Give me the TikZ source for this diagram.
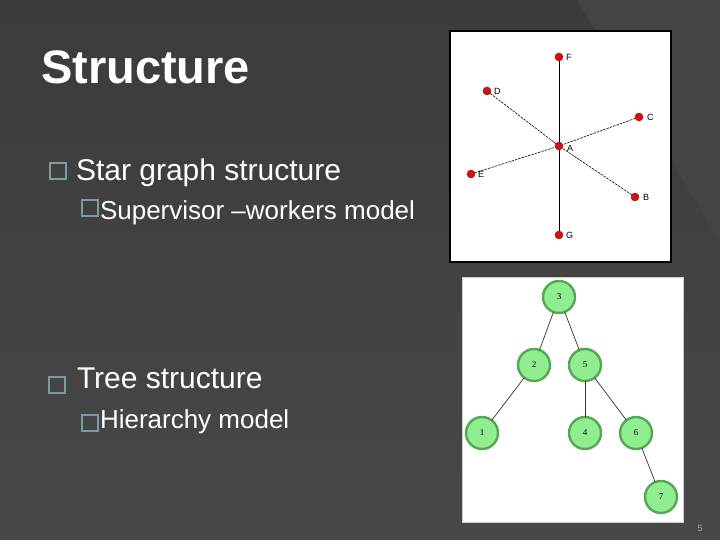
\documentclass[tikz,border=0pt]{standalone}
\usepackage{fontspec}
\setmainfont{Liberation Sans}
\newfontfamily\treefont{Liberation Serif}
\usepackage{xcolor}
\usetikzlibrary{positioning}
\definecolor{slidebg}{RGB}{59, 59, 59}
\definecolor{slidelow}{RGB}{72, 72, 72}
\definecolor{slideband}{RGB}{68, 68, 68}
\definecolor{bulletteal}{RGB}{120, 156, 162}
\definecolor{starred}{RGB}{210, 16, 16}
\definecolor{treegreen}{RGB}{144, 238, 144}
\definecolor{treeedge}{RGB}{84, 168, 84}
\definecolor{pagegray}{RGB}{168, 168, 168}

\begin{document}
\begin{tikzpicture}[x=1pt, y=-1pt, every node/.style={inner sep=0pt, outer sep=0pt},
    slidetitle/.style={font=\fontsize{47}{50}\selectfont\bfseries, text=white, anchor=base west},
    lvlone/.style={font=\fontsize{30}{34}\selectfont, text=white, anchor=base west},
    lvltwo/.style={font=\fontsize{26}{30}\selectfont, text=white, anchor=base west},
    bulletbox/.style={draw=bulletteal, line width=1.8pt, minimum size=16pt},
    stardot/.style={circle, fill=starred, draw=starred!70!black, line width=0.4pt, minimum size=8pt},
    starlbl/.style={font=\fontsize{9}{9}\selectfont, text=black},
    spoke/.style={black, line width=0.6pt, dash pattern=on 2.5pt off 1pt},
    treenode/.style={circle, fill=treegreen, draw=treeedge, line width=2.4pt, minimum size=32pt, font=\treefont\fontsize{9}{9}\selectfont},
    branch/.style={black!80, line width=0.7pt}]
    \useasboundingbox (0,0) rectangle (720,540);

    % Background
    \shade[top color=slidebg, bottom color=slidelow] (0,0) rectangle (720,540);
    \fill[slideband] (577,0) -- (720,0) -- (720,243) -- cycle;

    % Title and bullets
    \node[slidetitle] (ttl) at (41,84) {Structure};
    \node[bulletbox] (bstar) at (58,171) {};
    \node[lvlone] (tstar) at (76,181) {Star graph structure};
    \node[bulletbox, minimum size=15.5pt] (bsup) at (90,208) {};
    \node[lvltwo] (tsup) at (100,219) {Supervisor –workers model};
    \node[bulletbox] (btree) at (57,385) {};
    \node[lvlone] (ttree) at (77,388) {Tree structure};
    \node[bulletbox, minimum size=15.5pt] (bhier) at (90,423) {};
    \node[lvltwo] (thier) at (100,428) {Hierarchy model};

    % Star graph picture
    \draw[fill=white, draw=black, line width=1.4pt] (450,31) rectangle (671,262);
    \node[stardot] (a) at (559,146) {};
    \node[stardot] (f) at (559,57) {};
    \node[stardot] (d) at (487,91) {};
    \node[stardot] (c) at (639,117) {};
    \node[stardot] (e) at (471,174) {};
    \node[stardot] (b) at (635,197) {};
    \node[stardot] (g) at (559,235) {};
    \draw[black, line width=0.8pt] (f) -- (a);
    \draw[black, line width=0.8pt] (a) -- (g);
    \draw[spoke] (d) -- (a);
    \draw[spoke] (c) -- (a);
    \draw[spoke] (e) -- (a);
    \draw[spoke] (b) -- (a);
    \node[starlbl, right=4pt of a, yshift=-2pt] (la) {A};
    \node[starlbl, right=3pt of f] (lf) {F};
    \node[starlbl, right=3pt of d] (ld) {D};
    \node[starlbl, right=4pt of c] (lc) {C};
    \node[starlbl, right=3pt of e] (le) {E};
    \node[starlbl, right=4pt of b] (lb) {B};
    \node[starlbl, right=3pt of g] (lg) {G};

    % Tree picture
    \draw[fill=white, draw=black!20, line width=0.8pt] (462,277) rectangle (683,522);
    \node[treenode] (n3) at (559,297) {3};
    \node[treenode] (n2) at (534,365) {2};
    \node[treenode] (n5) at (585,365) {5};
    \node[treenode] (n1) at (482,433) {1};
    \node[treenode] (n4) at (585,433) {4};
    \node[treenode] (n6) at (636,433) {6};
    \node[treenode] (n7) at (661,497) {7};
    \draw[branch] (n3) -- (n2);
    \draw[branch] (n3) -- (n5);
    \draw[branch] (n2) -- (n1);
    \draw[branch] (n5) -- (n4);
    \draw[branch] (n5) -- (n6);
    \draw[branch] (n6) -- (n7);

    % Page number
    \node[font=\fontsize{9}{9}\selectfont, text=pagegray] (pg) at (700,528) {5};
\end{tikzpicture}
\end{document}
